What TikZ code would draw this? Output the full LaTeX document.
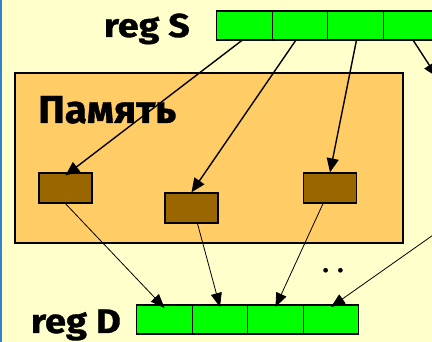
\documentclass[tikz,border=0pt]{standalone}
\usepackage{fontspec}
\setmainfont{Fira Sans}
\newfontfamily\lblfont{Fira Sans}[BoldFeatures={FakeBold=1}]
\usetikzlibrary{arrows.meta}
\definecolor{bgc}{HTML}{FFFFCC}
\definecolor{barc}{HTML}{3380CC}
\definecolor{memc}{HTML}{FFCC66}
\definecolor{cellc}{HTML}{996600}
\definecolor{regc}{HTML}{00FF00}
\tikzset{
  regcell/.style={draw=black, fill=regc, line width=1.3pt, minimum width=55.5pt, minimum height=29pt, inner sep=0pt, outer sep=0pt},
  memcell/.style={draw=black, fill=cellc, line width=1.3pt, minimum width=53pt, minimum height=30pt, inner sep=0pt},
  thickarr/.style={line width=1.4pt, -{Triangle[length=14pt,width=12pt]}},
  thinarr/.style={line width=0.8pt, -{Triangle[length=14pt,width=11pt]}},
  lbl/.style={font=\lblfont\bfseries\fontsize{33}{33}\selectfont, inner sep=0pt},
}
\begin{document}
\begin{tikzpicture}[x=1pt,y=-1pt]
\path[use as bounding box] (0,0) rectangle (432,342);
\clip (0,0) rectangle (432,342);
\fill[bgc] (0,0) rectangle (432,342);
\fill[barc] (0,0) rectangle (2,342);
% memory
\node[draw=black, fill=memc, line width=1.3pt, minimum width=388pt, minimum height=170pt, inner sep=0pt] (mem) at (209,158) {};
\node[lbl, anchor=base west, font=\lblfont\bfseries\fontsize{39}{39}\selectfont] (memlbl) at (38,123) {\scalebox{1.03}[1]{Память}};
% registers
\node[regcell] (s1) at (244.5,25.5) {};
\node[regcell] (s2) at (300,25.5) {};
\node[regcell] (s3) at (355.5,25.5) {};
\node[regcell] (s4) at (411,25.5) {};
\node[regcell] (d1) at (164.5,319.5) {};
\node[regcell] (d2) at (220,319.5) {};
\node[regcell] (d3) at (275.5,319.5) {};
\node[regcell] (d4) at (331,319.5) {};
\node[lbl, anchor=base east] (slbl) at (190,37) {\scalebox{1.14}[1]{reg S}};
\node[lbl, anchor=base east, font=\lblfont\bfseries\fontsize{34}{34}\selectfont] (dlbl) at (121,333) {\scalebox{1.12}[1]{reg D}};
% memory cells
\node[memcell] (b1) at (65.5,188) {};
\node[memcell] (b2) at (191.5,208) {};
\node[memcell] (b3) at (330,188) {};
% off-edge coordinates
\coordinate (out1) at (437,77);
\coordinate (in1) at (436,233);
% arrows
\draw[thickarr] ([xshift=-2pt]s1.south) -- ([yshift=-3pt]b1.north);
\draw[thickarr] ([xshift=-4pt]s2.south) -- (b2.north);
\draw[thickarr] ([xshift=1pt]s3.south) -- (b3.north);
\draw[thickarr] ([xshift=2pt]s4.south) -- (out1);
\draw[thinarr] (b1.south) -- ([yshift=-3pt]d1.north);
\draw[thinarr] ([xshift=6pt]b2.south) -- ([yshift=-2pt]d2.north);
\draw[thinarr] ([xshift=-7pt]b3.south) -- ([yshift=-2pt]d3.north);
\draw[thinarr] (in1) -- ([yshift=-2pt]d4.north);
\node[font=\lblfont\bfseries\fontsize{24}{24}\selectfont, inner sep=0pt, anchor=base] (dots) at (333,272) {.\hspace{9pt}.};
\end{tikzpicture}
\end{document}
